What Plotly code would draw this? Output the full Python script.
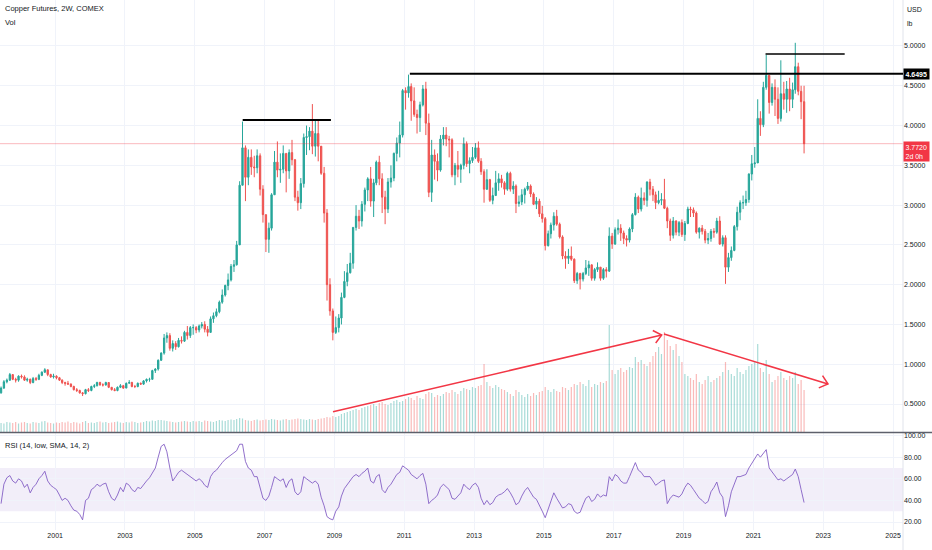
import math

import pandas as pd
import plotly.graph_objects as go

first_open = 0.64
close = [
    0.70, 0.78, 0.80, 0.87, 0.81, 0.80, 0.85,
    0.84, 0.80, 0.81, 0.77, 0.82, 0.81, 0.86, 0.90, 0.93, 0.87, 0.84, 0.85,
    0.83, 0.80, 0.77, 0.76, 0.75, 0.72, 0.68, 0.67, 0.64, 0.63, 0.68, 0.67,
    0.72, 0.73, 0.77, 0.74, 0.74, 0.77, 0.71, 0.68, 0.67, 0.71, 0.73, 0.70,
    0.76, 0.77, 0.72, 0.72, 0.76, 0.75, 0.79, 0.81, 0.81, 0.92, 0.94, 1.05,
    1.14, 1.33, 1.36, 1.20, 1.26, 1.22, 1.30, 1.29, 1.40, 1.36, 1.46, 1.46,
    1.43, 1.48, 1.50, 1.44, 1.40, 1.57, 1.61, 1.66, 1.78, 1.87, 1.99, 2.06,
    2.23, 2.25, 2.50, 3.25, 3.72, 3.35, 3.60, 3.48, 3.47, 3.62, 3.20, 2.88,
    2.57, 2.71, 3.13, 3.54, 3.44, 3.45, 3.65, 3.43, 3.66, 3.57, 3.10, 3.03,
    3.27, 3.85, 3.86, 3.93, 3.74, 3.90, 3.74, 3.40, 2.90, 2.00, 1.67, 1.40,
    1.46, 1.58, 1.84, 2.04, 2.15, 2.27, 2.72, 2.86, 2.80, 3.01, 3.19, 3.33,
    3.05, 3.28, 3.54, 3.33, 3.10, 2.95, 3.29, 3.34, 3.65, 3.78, 3.88, 4.44,
    4.41, 4.49, 4.31, 4.14, 4.10, 4.26, 4.46, 4.03, 3.16, 3.63, 3.55, 3.44,
    3.83, 3.88, 3.83, 3.82, 3.38, 3.50, 3.45, 3.50, 3.77, 3.52, 3.56, 3.60,
    3.72, 3.55, 3.42, 3.20, 3.32, 3.06, 3.12, 3.28, 3.33, 3.28, 3.20, 3.40,
    3.20, 3.24, 3.02, 3.04, 3.13, 3.20, 3.24, 3.14, 3.01, 3.05, 2.89, 2.83,
    2.49, 2.64, 2.75, 2.86, 2.76, 2.60, 2.36, 2.33, 2.36, 2.32, 2.05, 2.14,
    2.07, 2.14, 2.21, 2.25, 2.08, 2.19, 2.22, 2.08, 2.19, 2.17, 2.61, 2.51,
    2.69, 2.71, 2.65, 2.58, 2.56, 2.70, 2.88, 3.10, 2.95, 3.09, 3.06, 3.29,
    3.20, 3.13, 3.03, 3.06, 3.07, 2.96, 2.80, 2.62, 2.80, 2.66, 2.78, 2.63,
    2.77, 2.95, 2.94, 2.90, 2.66, 2.71, 2.67, 2.56, 2.58, 2.67, 2.66, 2.80,
    2.51, 2.59, 2.22, 2.34, 2.43, 2.73, 2.91, 3.03, 3.03, 3.07, 3.39, 3.52,
    3.53, 4.09, 4.01, 4.48, 4.63, 4.29, 4.48, 4.33, 4.09, 4.40, 4.33, 4.46,
    4.33, 4.45, 4.74, 4.43, 4.30, 3.772,
]
high = [
    0.72, 0.80, 0.82, 0.89, 0.87, 0.83, 0.86,
    0.87, 0.86, 0.83, 0.82, 0.84, 0.84, 0.88, 0.91, 0.95, 0.93, 0.88, 0.88,
    0.86, 0.84, 0.81, 0.78, 0.79, 0.76, 0.73, 0.70, 0.68, 0.65, 0.69, 0.70,
    0.73, 0.75, 0.78, 0.78, 0.76, 0.78, 0.77, 0.71, 0.70, 0.72, 0.75, 0.74,
    0.77, 0.80, 0.78, 0.74, 0.77, 0.77, 0.80, 0.82, 0.83, 0.93, 0.95, 1.06,
    1.15, 1.38, 1.40, 1.39, 1.30, 1.29, 1.33, 1.35, 1.42, 1.48, 1.48, 1.50,
    1.48, 1.50, 1.53, 1.54, 1.48, 1.60, 1.65, 1.70, 1.80, 1.94, 2.00, 2.14,
    2.26, 2.31, 2.55, 3.30, 4.05, 3.75, 3.70, 3.70, 3.62, 3.70, 3.65, 3.25,
    2.88, 2.78, 3.15, 3.68, 3.80, 3.65, 3.75, 3.65, 3.70, 3.82, 3.58, 3.18,
    3.34, 3.90, 4.00, 3.98, 4.27, 4.06, 4.08, 3.72, 3.48, 2.95, 2.08, 1.70,
    1.60, 1.63, 1.90, 2.17, 2.26, 2.40, 2.72, 3.00, 2.94, 3.05, 3.22, 3.35,
    3.48, 3.33, 3.56, 3.62, 3.40, 3.18, 3.34, 3.50, 3.66, 3.85, 4.05, 4.46,
    4.48, 4.64, 4.53, 4.48, 4.20, 4.30, 4.51, 4.55, 4.15, 3.82, 3.70, 3.65,
    3.88, 3.98, 3.98, 3.87, 3.84, 3.53, 3.68, 3.52, 3.85, 3.80, 3.60, 3.73,
    3.78, 3.80, 3.59, 3.45, 3.45, 3.33, 3.22, 3.43, 3.40, 3.38, 3.30, 3.42,
    3.42, 3.30, 3.26, 3.12, 3.20, 3.22, 3.29, 3.26, 3.16, 3.10, 3.08, 2.99,
    2.85, 2.68, 2.78, 2.91, 2.94, 2.78, 2.62, 2.42, 2.45, 2.48, 2.33, 2.16,
    2.15, 2.16, 2.31, 2.30, 2.25, 2.21, 2.28, 2.22, 2.21, 2.22, 2.72, 2.65,
    2.72, 2.82, 2.76, 2.68, 2.62, 2.72, 2.90, 3.15, 3.12, 3.22, 3.16, 3.30,
    3.33, 3.24, 3.17, 3.18, 3.15, 3.33, 2.98, 2.83, 2.85, 2.81, 2.80, 2.82,
    2.80, 2.98, 2.98, 2.97, 2.92, 2.72, 2.75, 2.70, 2.65, 2.70, 2.71, 2.84,
    2.86, 2.62, 2.62, 2.40, 2.48, 2.75, 2.98, 3.06, 3.12, 3.18, 3.40, 3.63,
    3.73, 4.33, 4.18, 4.55, 4.89, 4.62, 4.53, 4.58, 4.48, 4.82, 4.55, 4.56,
    4.60, 4.54, 5.04, 4.79, 4.50, 4.50,
]
low = [
    0.63, 0.69, 0.76, 0.79, 0.80, 0.77, 0.78,
    0.82, 0.79, 0.78, 0.75, 0.76, 0.79, 0.80, 0.85, 0.89, 0.85, 0.83, 0.82,
    0.81, 0.79, 0.75, 0.73, 0.74, 0.71, 0.67, 0.65, 0.63, 0.60, 0.62, 0.65,
    0.66, 0.70, 0.72, 0.73, 0.72, 0.73, 0.70, 0.67, 0.66, 0.66, 0.70, 0.69,
    0.70, 0.76, 0.71, 0.70, 0.71, 0.74, 0.74, 0.77, 0.78, 0.81, 0.89, 0.92,
    1.04, 1.12, 1.27, 1.17, 1.16, 1.18, 1.21, 1.26, 1.28, 1.31, 1.33, 1.37,
    1.39, 1.40, 1.45, 1.40, 1.35, 1.40, 1.52, 1.59, 1.64, 1.76, 1.85, 1.93,
    2.04, 2.16, 2.24, 2.50, 3.25, 3.05, 3.25, 3.38, 3.35, 3.40, 3.12, 2.78,
    2.41, 2.40, 2.68, 3.13, 3.35, 3.28, 3.40, 3.16, 3.33, 3.50, 3.05, 2.93,
    2.95, 3.22, 3.63, 3.69, 3.64, 3.61, 3.55, 3.38, 2.78, 1.80, 1.61, 1.30,
    1.38, 1.40, 1.50, 1.83, 1.98, 2.14, 2.20, 2.68, 2.70, 2.73, 2.92, 3.05,
    2.98, 2.85, 3.25, 3.25, 2.90, 2.76, 2.90, 3.22, 3.30, 3.55, 3.60, 3.85,
    4.20, 4.35, 4.06, 4.11, 3.90, 3.92, 4.24, 3.88, 3.10, 3.04, 3.32, 3.30,
    3.42, 3.75, 3.74, 3.60, 3.35, 3.25, 3.35, 3.28, 3.45, 3.48, 3.40, 3.53,
    3.58, 3.53, 3.38, 3.03, 3.19, 3.04, 3.01, 3.12, 3.18, 3.22, 3.13, 3.18,
    3.17, 3.14, 2.90, 2.98, 3.00, 3.02, 3.18, 3.10, 3.00, 2.95, 2.85, 2.78,
    2.43, 2.48, 2.58, 2.68, 2.74, 2.58, 2.32, 2.20, 2.26, 2.30, 2.02, 2.01,
    1.94, 2.04, 2.12, 2.11, 2.05, 2.05, 2.16, 2.05, 2.06, 2.09, 2.16, 2.45,
    2.50, 2.63, 2.55, 2.51, 2.48, 2.53, 2.66, 2.87, 2.90, 2.92, 3.00, 2.98,
    3.12, 3.05, 2.95, 3.01, 3.00, 2.95, 2.71, 2.55, 2.58, 2.62, 2.61, 2.60,
    2.55, 2.76, 2.85, 2.85, 2.64, 2.58, 2.63, 2.52, 2.51, 2.54, 2.59, 2.64,
    2.50, 2.48, 2.01, 2.16, 2.30, 2.42, 2.68, 2.81, 2.95, 2.99, 3.03, 3.31,
    3.47, 3.54, 3.87, 3.98, 4.45, 4.15, 4.25, 4.12, 4.02, 4.05, 4.20, 4.16,
    4.18, 4.22, 4.40, 4.38, 4.08, 3.65,
]
# volumen en miles de contratos
volume = [
    90, 85, 100, 95, 90, 100, 85,
    95, 100, 90, 85, 100, 95, 90, 105, 110, 95, 90, 85,
    95, 90, 100, 95, 105, 90, 100, 95, 85, 100, 110, 90,
    95, 90, 100, 105, 95, 100, 90, 95, 100, 105, 95, 90,
    100, 95, 105, 100, 90, 95, 100, 110, 105, 115, 110, 120,
    120, 115, 110, 105, 100, 95, 100, 105, 110, 105, 100, 110,
    105, 110, 100, 115, 110, 105, 100, 110, 120, 115, 110, 120,
    125, 120, 130, 140, 135, 120, 115, 110, 120, 125, 115, 120,
    125, 120, 130, 125, 120, 115, 125, 130, 120, 125, 130, 135,
    130, 125, 120, 130, 125, 120, 130, 135, 140, 150, 145, 160,
    150, 160, 180, 190, 200, 210, 220, 230, 220, 240, 250, 260,
    270, 280, 260, 290, 300, 280, 270, 290, 310, 320, 300, 310,
    330, 350, 340, 320, 360, 340, 330, 380, 400, 390, 350, 370,
    360, 380, 400, 390, 420, 400, 380, 410, 440, 430, 420, 450,
    440, 460, 470, 680, 500, 460, 440, 470, 450, 430, 420, 400,
    380, 360, 420, 400, 370, 350, 380, 360, 390, 370, 400, 410,
    450, 420, 400, 430, 410, 400, 450, 440, 420, 450, 480, 470,
    500, 480, 460, 520, 450, 480, 470, 500, 490, 510, 1070, 620,
    580, 620, 640, 600, 620, 650, 640, 750, 700, 720, 680, 660,
    700, 760, 800, 850, 780, 1000, 920, 860, 820, 880, 760, 700,
    580, 560, 540, 520, 580, 500, 480, 520, 560, 500, 520, 540,
    560, 600, 700, 620, 580, 560, 640, 600, 580, 620, 660, 680,
    700, 880, 640, 600, 720, 580, 500, 520, 560, 600, 540, 520,
    560, 540, 600, 480, 520, 420,
]
rsi = [
    37, 55, 61, 63, 58, 56, 60,
    58, 52, 55, 47, 52, 55, 60, 63, 67, 58, 54, 52,
    50, 45, 40, 42, 40, 35, 31, 30, 27, 22, 40, 42,
    50, 52, 55, 53, 55, 56, 48, 42, 40, 45, 52, 48,
    56, 54, 50, 48, 52, 51, 55, 58, 61, 66, 70, 80,
    90, 92, 85, 70, 58, 62, 66, 68, 66, 64, 62, 60,
    58, 60, 58, 54, 52, 62, 66, 68, 72, 75, 78, 80,
    82, 84, 86, 92, 92, 76, 70, 68, 62, 62, 52, 42,
    40, 44, 52, 62, 60, 58, 60, 52, 58, 60, 48, 45,
    48, 62, 60, 58, 56, 58, 55, 43, 35, 25, 23, 22,
    30, 34, 44, 51, 55, 58, 62, 64, 62, 65, 67, 70,
    58, 56, 62, 64, 50, 47, 52, 55, 60, 64, 66, 72,
    70, 68, 64, 62, 60, 63, 65, 55, 37, 40, 42, 45,
    52, 55, 53, 50, 42, 41, 44, 47, 55, 52, 50, 54,
    56, 52, 42, 36, 40, 36, 38, 43, 45, 46, 48, 51,
    47, 42, 36, 38, 44, 49, 52, 48, 43, 41, 36, 30,
    24, 32, 38, 47, 42, 38, 33, 34, 37, 36, 30, 28,
    29, 36, 42, 44, 39, 41, 46, 43, 45, 44, 62, 58,
    64, 62, 58, 56, 56, 62, 68, 75, 68, 66, 62, 62,
    62, 58, 54, 56, 58, 59, 37, 42, 45, 44, 43, 46,
    52, 56, 54, 50, 46, 42, 40, 37, 39, 48, 52, 57,
    47, 43, 25, 35, 48, 56, 62, 62, 63, 64, 70, 74,
    78, 83, 80, 84, 87, 70, 66, 62, 59, 60, 58, 60,
    62, 64, 69, 62, 50, 38,
]
year_ticks = ["2001", "2003", "2005", "2007", "2009", "2011", "2013",
              "2015", "2017", "2019", "2021", "2023", "2025"]
price_ticks = [0.5, 1.0, 1.5, 2.0, 2.5, 3.0, 3.5, 4.0, 4.5, 5.0]
rsi_ticks = [20, 40, 60, 80, 100]
last_price = 3.772
resistance = 4.6495

# Tabla para la libreria
dates = pd.date_range("1999-06-01", periods=len(close), freq="MS") + pd.Timedelta(days=14)
opens = [first_open] + close[:-1]
vol_colors = ["rgba(38,166,154,0.4)" if c >= o else "rgba(239,83,80,0.4)"
              for o, c in zip(opens, close)]

# Geometria en pixeles del lienzo
PLOT_W, PLOT_H, MAIN_H = 903, 530, 432
FONT = "Liberation Sans, Arial, sans-serif"
GRID = "#F0F3FA"
TXT = "#131722"


def paper(px, py):
    """Convierte pixeles del area de trazado a coordenadas paper."""
    return px / PLOT_W, 1 - py / PLOT_H


fig = go.Figure()
fig.add_trace(go.Bar(
    x=dates, y=volume, marker_color=vol_colors, marker_line_width=0,
    xaxis="x", yaxis="y3", showlegend=False, hoverinfo="skip"))
fig.add_trace(go.Candlestick(
    x=dates, open=opens, high=high, low=low, close=close,
    increasing=dict(line=dict(color="#26A69A", width=1), fillcolor="#26A69A"),
    decreasing=dict(line=dict(color="#EF5350", width=1), fillcolor="#EF5350"),
    whiskerwidth=0, xaxis="x", yaxis="y", showlegend=False))
fig.add_trace(go.Scatter(
    x=dates, y=rsi, mode="lines", line=dict(color="rgba(126,87,194,0.85)", width=1),
    xaxis="x2", yaxis="y2", showlegend=False))

tick_dates = [f"{y}-01-01" for y in year_ticks]
x_range = ["1999-06-04", "2025-04-15"]

shapes = [
    # banda RSI 30-70
    dict(type="rect", xref="paper", yref="y2", x0=0, x1=1, y0=30, y1=70,
         fillcolor="rgba(126,87,194,0.10)", line_width=0, layer="below"),
    # linea de ultimo precio
    dict(type="line", xref="x", yref="y", x0=x_range[0], x1=x_range[1],
         y0=last_price, y1=last_price, line=dict(color="rgba(242,54,69,0.35)", width=1)),
    # separadores
    dict(type="line", xref="paper", yref="paper", x0=1, x1=1, y0=-20 / PLOT_H, y1=1,
         line=dict(color="#E0E3EB", width=1)),
    dict(type="line", xref="paper", yref="paper", x0=0, x1=932 / PLOT_W,
         y0=1 - 432.5 / PLOT_H, y1=1 - 432.5 / PLOT_H, line=dict(color="#5D606B", width=1.5)),
    # lineas horizontales dibujadas
    dict(type="line", xref="x", yref="y", x0="2006-05-17", x1="2008-11-25",
         y0=4.07, y1=4.07, line=dict(color="black", width=2)),
    dict(type="line", xref="x", yref="y", x0="2011-03-01", x1=x_range[1],
         y0=resistance, y1=resistance, line=dict(color="black", width=2)),
    dict(type="line", xref="x", yref="y", x0="2021-05-08", x1="2023-08-14",
         y0=4.90, y1=4.90, line=dict(color="black", width=1.5)),
]

# flechas rojas sobre el volumen (en pixeles)
arrows = [((333, 411.7), (661.7, 335)), ((664, 334), (828, 384))]
for (sx, sy), (tx, ty) in arrows:
    x0, y0 = paper(sx, sy)
    x1, y1 = paper(tx, ty)
    shapes.append(dict(type="line", xref="paper", yref="paper", x0=x0, y0=y0, x1=x1, y1=y1,
                       line=dict(color="#F23645", width=1.5)))
    d = math.hypot(tx - sx, ty - sy)
    ux, uy = (sx - tx) / d, (sy - ty) / d
    pts = []
    for ang in (math.radians(40), math.radians(-40)):
        ax = tx + 10 * (ux * math.cos(ang) - uy * math.sin(ang))
        ay = ty + 10 * (ux * math.sin(ang) + uy * math.cos(ang))
        pts.append(paper(ax, ay))
    tip = paper(tx, ty)
    path = (f"M {pts[0][0]} {pts[0][1]} L {tip[0]} {tip[1]} L {pts[1][0]} {pts[1][1]}")
    shapes.append(dict(type="path", xref="paper", yref="paper", path=path,
                       line=dict(color="#F23645", width=1.5)))

annotations = []
for text, px_, py_, size in [("Copper Futures, 2W, COMEX", 3, 9, 7.5), ("Vol", 3, 23, 7.5),
                             ("RSI (14, low, SMA, 14, 2)", 3, 445, 7.5),
                             ("USD", 905, 10, 7), ("lb", 905, 24, 7)]:
    ax_, ay_ = paper(px_, py_)
    annotations.append(dict(text=text, xref="paper", yref="paper", x=ax_, y=ay_,
                            xanchor="left", yanchor="middle", showarrow=False,
                            font=dict(size=size, color=TXT, family=FONT)))
annotations.append(dict(text="<b>4.6495</b>", xref="paper", yref="y", x=1, y=resistance,
                        xanchor="left", yanchor="middle", showarrow=False, xshift=0,
                        bgcolor="#000000", borderpad=1.5,
                        font=dict(size=7, color="white", family=FONT)))
annotations.append(dict(text="3.7720<br>2d 0h", xref="paper", yref="y", x=1, y=last_price,
                        xanchor="left", yanchor="top", showarrow=False, xshift=0, yshift=3,
                        bgcolor="#F23645", borderpad=1.5, align="left",
                        font=dict(size=7, color="white", family=FONT)))

main_bottom = 1 - MAIN_H / PLOT_H
fig.update_layout(
    width=932, height=550,
    margin=dict(l=0, r=932 - PLOT_W, t=0, b=550 - PLOT_H),
    paper_bgcolor="white", plot_bgcolor="white",
    font=dict(family=FONT, size=7, color=TXT),
    bargap=0.55, showlegend=False,
    xaxis=dict(domain=[0, 1], anchor="y", type="date", range=x_range,
               tickvals=tick_dates, showticklabels=False, showgrid=True,
               gridcolor=GRID, zeroline=False, rangeslider=dict(visible=False)),
    xaxis2=dict(domain=[0, 1], anchor="y2", type="date", matches="x", range=x_range,
                tickvals=tick_dates, ticktext=year_ticks, showgrid=True,
                gridcolor=GRID, zeroline=False, ticks="",
                tickfont=dict(size=7, color=TXT)),
    yaxis=dict(domain=[main_bottom, 1], anchor="x", side="right",
               range=[0.148, 5.578], tickvals=price_ticks, tickformat=".4f",
               showgrid=True, gridcolor=GRID, zeroline=False, automargin=False,
               tickfont=dict(size=7, color=TXT)),
    yaxis3=dict(overlaying="y", anchor="x", range=[0, 4320], visible=False),
    yaxis2=dict(domain=[0, 1 - 433 / PLOT_H], anchor="x2", side="right",
                range=[12.6, 102.4], tickvals=rsi_ticks, tickformat=".2f",
                showgrid=True, gridcolor=GRID, zeroline=False, automargin=False,
                tickfont=dict(size=7, color=TXT)),
    shapes=shapes, annotations=annotations,
)

# quitar el margen del body para que la figura ocupe toda la ventana
fig.write_html("out.html", config={"displayModeBar": False},
               post_script="document.body.style.margin='0';")
